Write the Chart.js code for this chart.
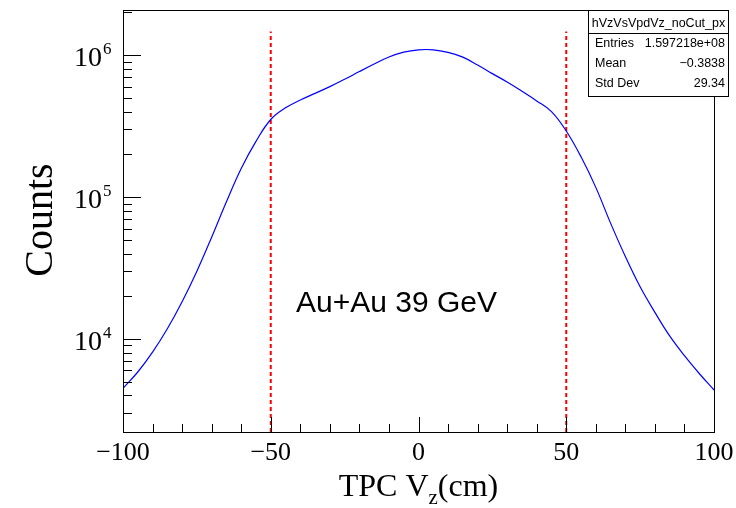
<!DOCTYPE html>
<html>
<head>
<meta charset="utf-8">
<script src="https://cdn.jsdelivr.net/npm/chart.js@4"></script>
<style>
  html, body { margin: 0; padding: 0; background: #fff; }
  canvas { display: block; }
</style>
</head>
<body>
<canvas id="vzChart" width="736" height="508"></canvas>
<script>
// TPC Vz distribution (counts per bin)
const vz = [-100, -95, -90, -85, -80, -75, -70, -65, -60, -55, -50, -45, -40, -35, -30, -25, -20, -15, -10, -5,
            0, 5, 10, 15, 20, 25, 30, 35, 40, 45, 50, 55, 60, 65, 70, 75, 80, 85, 90, 95, 100];
const counts = [4490, 5850, 8070, 11800, 18300, 30000, 52100, 92700, 159000, 247000, 352000, 425000, 483000, 538000,
                600000, 676000, 766000, 865000, 970000, 1050000, 1090000, 1090000, 1045000, 968000, 851000, 741000,
                646000, 556000, 476000, 400000, 292000, 192000, 117000, 65500, 38100, 23300, 15400, 10500, 7620, 5710, 4370];

// vertex cut lines
const cutPositions = [-50, 50];
const cutTop = 1.47e6;

// axes
const xRange = [-100, 100];
const yRange = [2210, 2.08e6];
const xMajorTicks = [-100, -50, 0, 50, 100];
const xTickLabels = ['\u2212100', '\u221250', '0', '50', '100'];
const yDecades = [4, 5, 6];

// stats box
const statsTitle = 'hVzVsVpdVz_noCut_px';
const statsLabels = ['Entries', 'Mean', 'Std Dev'];
const statsValues = ['1.597218e+08', '\u22120.3838', '29.34'];

const serif = '"Liberation Serif", "DejaVu Serif", serif';
const sans = '"Liberation Sans", Arial, sans-serif';

const rootDecor = {
    id: 'rootDecor',
    afterDraw(chart) {
        const c = chart.ctx;
        const area = chart.chartArea;
        const xs = chart.scales.x;
        const ys = chart.scales.y;
        c.save();

        // frame
        c.strokeStyle = '#000';
        c.lineWidth = 1;
        c.strokeRect(area.left + 0.5, area.top + 0.5, area.right - area.left, area.bottom - area.top);

        // y ticks (log, inside)
        c.beginPath();
        for (let d = 3; d <= 6; d++) {
            for (let m = 1; m <= 9; m++) {
                const v = m * Math.pow(10, d);
                if (v < yRange[0] || v > yRange[1]) continue;
                const py = Math.round(ys.getPixelForValue(v)) + 0.5;
                const len = m === 1 ? 18 : 9;
                c.moveTo(area.left, py);
                c.lineTo(area.left + len, py);
            }
        }
        // x ticks (inside)
        for (let v = xRange[0]; v <= xRange[1]; v += 10) {
            const px = Math.round(xs.getPixelForValue(v)) + 0.5;
            const len = v % 50 === 0 ? 15 : 8;
            c.moveTo(px, area.bottom);
            c.lineTo(px, area.bottom - len);
        }
        c.stroke();

        // y tick labels 10^n
        c.fillStyle = '#000';
        c.textBaseline = 'alphabetic';
        yDecades.forEach(d => {
            const py = ys.getPixelForValue(Math.pow(10, d));
            c.font = '28px ' + serif;
            c.textAlign = 'right';
            c.fillText('10', 102, py + 11);
            c.font = '17px ' + serif;
            c.textAlign = 'left';
            c.fillText(String(d), 103, py - 1);
        });

        // x tick labels
        c.font = '26px ' + serif;
        c.textAlign = 'center';
        xMajorTicks.forEach((v, i) => {
            c.fillText(xTickLabels[i], xs.getPixelForValue(v), 460);
        });

        // x title: TPC V_z(cm)
        const p1 = 'TPC V', sub = 'z', p2 = '(cm)';
        c.font = '32px ' + serif;
        const w1 = c.measureText(p1).width, w3 = c.measureText(p2).width;
        c.font = '21px ' + serif;
        const w2 = c.measureText(sub).width;
        let tx = (area.left + area.right) / 2 - (w1 + w2 + w3) / 2;
        c.textAlign = 'left';
        c.font = '32px ' + serif;
        c.fillText(p1, tx, 496);
        c.font = '21px ' + serif;
        c.fillText(sub, tx + w1, 504);
        c.font = '32px ' + serif;
        c.fillText(p2, tx + w1 + w2, 496);

        // y title
        c.save();
        c.translate(52, 220);
        c.rotate(-Math.PI / 2);
        c.font = '40px ' + serif;
        c.textAlign = 'center';
        c.fillText('Counts', 0, 0);
        c.restore();

        // energy label
        c.font = '30px ' + sans;
        c.textAlign = 'left';
        c.fillText('Au+Au 39 GeV', 296, 312);

        // stats box
        const bx = 588.5, by = 10.5, bw = 140, bh = 86;
        c.fillStyle = '#fff';
        c.fillRect(bx, by, bw, bh);
        c.strokeStyle = '#000';
        c.lineWidth = 1;
        c.strokeRect(bx, by, bw, bh);
        c.beginPath();
        c.moveTo(bx, 33.5);
        c.lineTo(bx + bw, 33.5);
        c.stroke();
        c.fillStyle = '#000';
        c.font = '12.5px ' + sans;
        c.textAlign = 'center';
        c.fillText(statsTitle, bx + bw / 2, 27);
        statsLabels.forEach((lab, i) => {
            const yy = 47 + i * 20;
            c.textAlign = 'left';
            c.fillText(lab, 595, yy);
            c.textAlign = 'right';
            c.fillText(statsValues[i], 725, yy);
        });

        c.restore();
    }
};

const datasets = [{
    data: vz.map((x, i) => ({ x: x, y: counts[i] })),
    borderColor: '#0000ff',
    borderWidth: 1.2,
    pointRadius: 0,
    fill: false,
    tension: 0.4
}];
cutPositions.forEach(cx => {
    datasets.push({
        data: [{ x: cx, y: yRange[0] }, { x: cx, y: cutTop }],
        borderColor: '#ff0000',
        borderWidth: 2,
        borderDash: [4, 3],
        pointRadius: 0,
        fill: false
    });
});

new Chart(document.getElementById('vzChart'), {
    type: 'line',
    data: { datasets: datasets },
    options: {
        responsive: false,
        animation: false,
        devicePixelRatio: 1,
        layout: { padding: { left: 123, right: 22, top: 10, bottom: 76 } },
        plugins: {
            legend: { display: false },
            tooltip: { enabled: false }
        },
        scales: {
            x: { type: 'linear', min: xRange[0], max: xRange[1], display: false },
            y: { type: 'logarithmic', min: yRange[0], max: yRange[1], display: false }
        }
    },
    plugins: [rootDecor]
});
</script>
</body>
</html>
